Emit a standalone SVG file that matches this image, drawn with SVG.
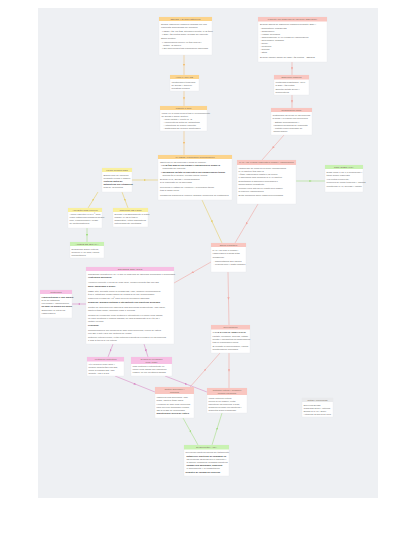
<svg xmlns="http://www.w3.org/2000/svg" width="414" height="539" viewBox="0 0 414 539">
<defs>
<style>
.bg{fill:#eef0f3}
.bd{fill:#fff;stroke:#e2e4e8;stroke-width:0.3}
.ho{fill:#fcd48c}.hr{fill:#f9c6c0}.hy{fill:#f9f0a0}.hg{fill:#c9f2b2}.hp{fill:#f7c0e4}.hx{fill:#e9eaec}
text{font-family:"Liberation Sans",Arial,sans-serif;font-size:2.3px;fill:#666}
.h{text-anchor:middle;fill:#7a6a5a}
.b{font-weight:bold;fill:#3a3a3a}
.lo{stroke:#f2c27a;stroke-width:0.6;fill:none}
.ly{stroke:#e6cf6a;stroke-width:0.6;fill:none}
.lg{stroke:#a6de86;stroke-width:0.6;fill:none}
.lr{stroke:#f0a8a2;stroke-width:0.6;fill:none}
.lp{stroke:#d88cc6;stroke-width:0.6;fill:none}
</style>
<marker id="ao" viewBox="0 0 4 4" refX="2" refY="2" markerWidth="2.4" markerHeight="2.4" orient="auto" markerUnits="userSpaceOnUse"><path d="M0,0 L4,2 L0,4 z" fill="#f2c27a"/></marker>
<marker id="ay" viewBox="0 0 4 4" refX="2" refY="2" markerWidth="2.4" markerHeight="2.4" orient="auto" markerUnits="userSpaceOnUse"><path d="M0,0 L4,2 L0,4 z" fill="#e6cf6a"/></marker>
<marker id="ag" viewBox="0 0 4 4" refX="2" refY="2" markerWidth="2.4" markerHeight="2.4" orient="auto" markerUnits="userSpaceOnUse"><path d="M0,0 L4,2 L0,4 z" fill="#a6de86"/></marker>
<marker id="ar" viewBox="0 0 4 4" refX="2" refY="2" markerWidth="2.4" markerHeight="2.4" orient="auto" markerUnits="userSpaceOnUse"><path d="M0,0 L4,2 L0,4 z" fill="#f0a8a2"/></marker>
<marker id="ap" viewBox="0 0 4 4" refX="2" refY="2" markerWidth="2.4" markerHeight="2.4" orient="auto" markerUnits="userSpaceOnUse"><path d="M0,0 L4,2 L0,4 z" fill="#d88cc6"/></marker>
</defs>
<rect width="414" height="539" fill="#fff"/>
<rect class="bg" x="38" y="8" width="340" height="490"/>

<g id="connectors">
<polyline class="lo" marker-mid="url(#ao)" points="184,55 184,65 184,75"/>
<polyline class="lo" marker-mid="url(#ao)" points="184,91 184,98.5 184,106"/>
<polyline class="lo" marker-mid="url(#ao)" points="184,131 184,143 184,155"/>
<polyline class="ly" marker-mid="url(#ay)" points="132,180 145,180 158,180"/>
<polyline class="ly" marker-mid="url(#ay)" points="202,200 212,221.5 222,243"/>
<polyline class="ly" marker-mid="url(#ay)" points="98,192 93,200 88,208"/>
<polyline class="ly" marker-mid="url(#ay)" points="122,192 125,200 128,208"/>
<polyline class="lg" marker-mid="url(#ag)" points="87,228 87,235 87,242"/>
<polyline class="lg" marker-mid="url(#ag)" points="296,181 310.5,181 325,181"/>
<polyline class="lg" marker-mid="url(#ag)" points="183,418 190.5,431.5 198,445"/>
<polyline class="lg" marker-mid="url(#ag)" points="222,413 217,429 212,445"/>
<polyline class="lr" marker-mid="url(#ar)" points="292,62 292,68.5 292,75"/>
<polyline class="lr" marker-mid="url(#ar)" points="292,95 292,101.5 292,108"/>
<polyline class="lr" marker-mid="url(#ar)" points="284,135 273,147.5 262,160"/>
<polyline class="lr" marker-mid="url(#ar)" points="258,204 246.5,223.5 235,243"/>
<polyline class="lr" marker-mid="url(#ar)" points="211,262 192.5,272.5 174,283"/>
<polyline class="lr" marker-mid="url(#ar)" points="228,272 228.5,298.5 229,325"/>
<polyline class="lr" marker-mid="url(#ar)" points="220,353 205,370 190,387"/>
<polyline class="lr" marker-mid="url(#ar)" points="229,353 229,370.5 229,388"/>
<polyline class="lp" marker-mid="url(#ap)" points="86,304 79,304 72,304"/>
<polyline class="lp" marker-mid="url(#ap)" points="113,344 110.5,350.5 108,357"/>
<polyline class="lp" marker-mid="url(#ap)" points="144,344 146,350.5 148,357"/>
<polyline class="lp" marker-mid="url(#ap)" points="115,376 135,384 155,392"/>
<polyline class="lp" marker-mid="url(#ap)" points="165,376 186,384 207,392"/>
</g>

<g id="n1">
<rect class="bd" x="159" y="17" width="53" height="38"/><rect class="ho" x="159" y="17" width="53" height="4"/>
<text class="h" x="185.5" y="19.8">SEPSIS Y SHOCK SÉPTICO</text>
<text><tspan x="161" y="24.5">Sepsis: disfunción orgánica causada por una</tspan><tspan x="161" y="27.5">respuesta desregulada del huésped</tspan><tspan x="162" y="31.5">• qSOFA ≥2: FR ≥22, alteración mental, PAS ≤100</tspan><tspan x="162" y="34.5">• SOFA ≥2 puntos sobre la basal del paciente</tspan><tspan x="161" y="39">Shock séptico:</tspan><tspan x="162" y="42.5">• Vasopresores para PAM ≥65 mmHg y</tspan><tspan x="163" y="45.5">lactato &gt;2 mmol/L</tspan><tspan x="162" y="49">• Sin hipovolemia tras reanimación adecuada</tspan></text>
</g>

<g id="n2">
<rect class="bd" x="258" y="17" width="69" height="45"/><rect class="hr" x="258" y="17" width="69" height="4.5"/>
<text class="h" x="292.5" y="20">Paciente con sospecha de infección (SSC 2016)</text>
<text><tspan x="260" y="25">Evaluar signos de disfunción orgánica mediante SOFA:</tspan><tspan x="260" y="29">- Respiratorio: PaO2/FiO2</tspan><tspan x="260" y="32">- Coagulación</tspan><tspan x="260" y="35">- Hígado: bilirrubina</tspan><tspan x="260" y="38">- Cardiovascular: PAM o dosis de vasopresores</tspan><tspan x="260" y="41">- Neurológico: Glasgow</tspan><tspan x="260" y="44">- Renal:</tspan><tspan x="260" y="47">- creatinina</tspan><tspan x="260" y="50">- diuresis</tspan><tspan x="260" y="53">- Otros</tspan><tspan x="260" y="58">Evaluar cambio agudo del SOFA ≥2 puntos = SEPSIS</tspan></text>
</g>

<g id="n3">
<rect class="bd" x="170" y="75" width="29" height="16"/><rect class="ho" x="170" y="75" width="29" height="4"/>
<text class="h" x="184.5" y="77.8">Hora 0 / TRIAGE</text>
<text><tspan x="171.5" y="82.5">Identificación temprana</tspan><tspan x="171.5" y="85.5">de sepsis y toma de</tspan><tspan x="171.5" y="88.5">muestras iniciales</tspan></text>
</g>

<g id="n4">
<rect class="bd" x="274" y="75" width="35" height="20"/><rect class="hr" x="274" y="75" width="35" height="4.5"/>
<text class="h" x="291.5" y="78">Disfunción orgánica</text>
<text><tspan x="275.5" y="83">Mortalidad hospitalaria &gt;10%</tspan><tspan x="275.5" y="86">si SOFA ≥2 puntos</tspan><tspan x="275.5" y="90">Solicitar lactato sérico y</tspan><tspan x="275.5" y="93">hemocultivos</tspan></text>
</g>

<g id="n5">
<rect class="bd" x="160" y="106" width="47" height="25"/><rect class="ho" x="160" y="106" width="47" height="4"/>
<text class="h" x="183.5" y="108.8">Paquete 1 hora</text>
<text><tspan x="161.5" y="113.5">Iniciar en la primera hora tras el reconocimiento</tspan><tspan x="161.5" y="116.5">de sepsis o shock séptico:</tspan><tspan x="163" y="120">- Medir lactato y repetir si &gt;2</tspan><tspan x="163" y="123">- Hemocultivos antes de antibióticos</tspan><tspan x="163" y="126">- Antibióticos de amplio espectro</tspan><tspan x="163" y="129">- Cristaloides 30 ml/kg si hipotensión</tspan></text>
</g>

<g id="n6">
<rect class="bd" x="271" y="108" width="41" height="27"/><rect class="hr" x="271" y="108" width="41" height="4"/>
<text class="h" x="291.5" y="110.8">Reanimación inicial</text>
<text><tspan x="272.5" y="115.5">Cristaloides 30 ml/kg en las primeras</tspan><tspan x="272.5" y="118.5">3 horas y reevaluar con frecuencia</tspan><tspan x="273.5" y="122.5">- Estado hemodinámico y</tspan><tspan x="273.5" y="125.5">variables dinámicas de respuesta</tspan><tspan x="273.5" y="128.5">- Lactato como marcador de</tspan><tspan x="273.5" y="131.5">hipoperfusión</tspan></text>
</g>

<g id="n7">
<rect class="bd" x="158" y="155" width="74" height="45"/><rect class="ho" x="158" y="155" width="74" height="4"/>
<text class="h" x="195" y="157.8">MANEJO: reanimación hemodinámica</text>
<text><tspan x="160" y="162.5">Objetivos en las primeras 6 horas de manejo:</tspan><tspan x="161" y="166" class="b">• PAM ≥65 mmHg con fluidos y vasopresores según la</tspan><tspan x="162.5" y="169">respuesta del paciente</tspan><tspan x="161" y="172.5" class="b">• Normalizar lactato en pacientes con hipoperfusión tisular</tspan><tspan x="162.5" y="175.5">diuresis ≥0,5 ml/kg/h, llenado capilar normal</tspan><tspan x="160" y="180">Evaluar PVC, ScvO2 y ecocardiografía</tspan><tspan x="160" y="183">si la respuesta no es adecuada</tspan><tspan x="160" y="187.5">Reevaluar el estado de volumen y la perfusión tisular</tspan><tspan x="160" y="191">tras la carga inicial</tspan><tspan x="160" y="195.5">Considerar albúmina si requiere grandes volúmenes de cristaloides</tspan></text>
</g>

<g id="n8">
<rect class="bd" x="237" y="160" width="59" height="44"/><rect class="hr" x="237" y="160" width="59" height="5"/>
<text class="h" x="266.5" y="163.3">PAM &lt;65: evaluar respuesta a fluidos y vasopresores</text>
<text><tspan x="238.5" y="168.5">Vasopresor de primera elección: noradrenalina</tspan><tspan x="238.5" y="171.5">PAM objetivo ≥65 mmHg</tspan><tspan x="238.5" y="175">Añadir vasopresina (hasta 0,03 U/min)</tspan><tspan x="238.5" y="178">o adrenalina para alcanzar la PAM objetivo</tspan><tspan x="238.5" y="182">Dobutamina si disfunción miocárdica o</tspan><tspan x="238.5" y="185">hipoperfusión persistente</tspan><tspan x="238.5" y="189">Colocar línea arterial en cuanto sea posible</tspan><tspan x="238.5" y="192">si requiere vasopresores</tspan><tspan x="238.5" y="196">Evitar dopamina salvo casos seleccionados</tspan></text>
</g>

<g id="n9">
<rect class="bd" x="325" y="165" width="38" height="27"/><rect class="hg" x="325" y="165" width="38" height="4"/>
<text class="h" x="344" y="167.8">NORADRENALINA</text>
<text><tspan x="326.5" y="172.5">Dosis inicial 0,05–0,1 mcg/kg/min y</tspan><tspan x="326.5" y="175.5">titular según respuesta</tspan><tspan x="326.5" y="179.5">Vía central preferente;</tspan><tspan x="326.5" y="182.5">periférica de forma temporal y vigilada</tspan><tspan x="326.5" y="186.5">Monitorizar PAM, diuresis y lactato</tspan></text>
</g>

<g id="n10">
<rect class="bd" x="102" y="168" width="30" height="24"/><rect class="hy" x="102" y="168" width="30" height="4"/>
<text class="h" x="117" y="170.8">FOCO INFECCIOSO</text>
<text><tspan x="103.5" y="175.5">Buscar foco de infección</tspan><tspan x="103.5" y="178.5">mediante clínica e imagen</tspan><tspan x="103.5" y="182" class="b">Cultivos antes de</tspan><tspan x="103.5" y="185" class="b">antibióticos sin retrasarlos</tspan><tspan x="103.5" y="188">más de 45 minutos</tspan></text>
</g>

<g id="n11">
<rect class="bd" x="68" y="208" width="34" height="20"/><rect class="hy" x="68" y="208" width="34" height="4"/>
<text class="h" x="85" y="210.8">ANTIBIÓTICOS empírico</text>
<text><tspan x="69.5" y="215">Amplio espectro en la 1.ª hora,</tspan><tspan x="69.5" y="218">cubrir patógenos probables según</tspan><tspan x="69.5" y="221">foco, epidemiología y riesgo</tspan><tspan x="69.5" y="224">de multirresistencia</tspan></text>
</g>

<g id="n12">
<rect class="bd" x="113" y="208" width="35" height="19"/><rect class="hy" x="113" y="208" width="35" height="4"/>
<text class="h" x="130.5" y="210.8">CONTROL DE FOCO</text>
<text><tspan x="114.5" y="215">Drenaje o desbridamiento lo antes</tspan><tspan x="114.5" y="218">posible (6–12 h) tras el</tspan><tspan x="114.5" y="221">diagnóstico; retirar dispositivos</tspan><tspan x="114.5" y="224">potencialmente infectados</tspan></text>
</g>

<g id="n13">
<rect class="bd" x="70" y="242" width="34" height="16"/><rect class="hg" x="70" y="242" width="34" height="4"/>
<text class="h" x="87" y="244.8">AJUSTE DE TERAPIA</text>
<text><tspan x="71.5" y="249.5">Desescalar según cultivos,</tspan><tspan x="71.5" y="252.5">duración 7–10 días; valorar</tspan><tspan x="71.5" y="255.5">procalcitonina</tspan></text>
</g>

<g id="n14">
<rect class="bd" x="211" y="243" width="35" height="29"/><rect class="hr" x="211" y="243" width="35" height="4"/>
<text class="h" x="228.5" y="245.8">Shock refractario</text>
<text><tspan x="212.5" y="250.5">PAM &lt;65 pese a fluidos y</tspan><tspan x="212.5" y="253.5">vasopresores a dosis altas</tspan><tspan x="212.5" y="257.5">Considerar:</tspan><tspan x="213.5" y="261.5">- hidrocortisona 200 mg/día</tspan><tspan x="213.5" y="264.5">- revaluar foco y gasto cardiaco</tspan></text>
</g>

<g id="n15">
<rect class="bd" x="86" y="267" width="88" height="77"/><rect class="hp" x="86" y="267" width="88" height="4"/>
<text class="h" x="130" y="269.8">SOPORTE ORGÁNICO</text>
<text><tspan x="88" y="274.5">Transfundir hematíes si Hb &lt;7 g/dl en ausencia de isquemia miocárdica o hemorragia</tspan><tspan x="88" y="278" class="b">Ventilación mecánica:</tspan><tspan x="88" y="283">Volumen corriente 6 ml/kg de peso ideal, presión meseta ≤30 cmH2O</tspan><tspan x="88" y="287" class="b">SDRA moderado o grave:</tspan><tspan x="88" y="291.5">PEEP alta, decúbito prono si PaO2/FiO2 &lt;150, bloqueo neuromuscular</tspan><tspan x="88" y="294.5">≤48 h, estrategia conservadora de fluidos si no hay hipoperfusión</tspan><tspan x="88" y="299">Cabecera elevada 30–45º para prevenir neumonía asociada</tspan><tspan x="88" y="303" class="b">Sedación: mínima continua o intermitente con objetivos definidos</tspan><tspan x="88" y="308">Control de glucemia con insulina si dos glucemias consecutivas &gt;180 mg/dl,</tspan><tspan x="88" y="311">objetivo ≤180 mg/dl, medición cada 1–2 horas</tspan><tspan x="88" y="315.5">Terapia de reemplazo renal continua o intermitente en lesión renal aguda,</tspan><tspan x="88" y="318.5">no para creatinina u oliguria aislada; no usar bicarbonato si pH ≥7,15 y</tspan><tspan x="88" y="321.5">lactato elevado</tspan><tspan x="88" y="326" class="b">Profilaxis:</tspan><tspan x="88" y="330.5">Tromboembólica con heparina de bajo peso molecular; úlcera de estrés</tspan><tspan x="88" y="333.5">con IBP o anti-H2 si hay factores de riesgo</tspan><tspan x="88" y="338">Nutrición enteral precoz; evitar nutrición parenteral exclusiva en los primeros</tspan><tspan x="88" y="341">7 días si tolera la vía enteral</tspan></text>
</g>

<g id="n16">
<rect class="bd" x="40" y="290" width="32" height="28"/><rect class="hp" x="40" y="290" width="32" height="4"/>
<text class="h" x="56" y="292.8">Corticoides</text>
<text><tspan x="41.5" y="297.5" class="b">Hidrocortisona IV 200 mg/día</tspan><tspan x="41.5" y="301">si no se estabiliza</tspan><tspan x="41.5" y="304">con fluidos y vasopresores;</tspan><tspan x="41.5" y="307" class="b">no usar en sepsis sin shock</tspan><tspan x="41.5" y="310.5">Suspender al retirar los</tspan><tspan x="41.5" y="313.5">vasopresores</tspan></text>
</g>

<g id="n17">
<rect class="bd" x="211" y="325" width="39" height="28"/><rect class="hr" x="211" y="325" width="39" height="4.5"/>
<text class="h" x="230.5" y="328">Reevaluación</text>
<text><tspan x="212.5" y="333" class="b">A LAS 6 HORAS: REEVALUAR</tspan><tspan x="212.5" y="336.5">Lactato, perfusión, diuresis, estado</tspan><tspan x="212.5" y="339.5">mental y parámetros hemodinámicos</tspan><tspan x="212.5" y="342.5">tras la reanimación inicial</tspan><tspan x="212.5" y="346.5">Si persiste la hipoperfusión, valorar</tspan><tspan x="212.5" y="349.5">monitorización avanzada</tspan></text>
</g>

<g id="n18">
<rect class="bd" x="87" y="357" width="37" height="19"/><rect class="hp" x="87" y="357" width="37" height="4.5"/>
<text class="h" x="105.5" y="360">Ventilación protectora</text>
<text><tspan x="88.5" y="365">Vt 6 ml/kg de peso ideal y</tspan><tspan x="88.5" y="368">presión meseta ≤30 cmH2O;</tspan><tspan x="88.5" y="371">prono si PaO2/FiO2 &lt;150</tspan><tspan x="88.5" y="374">durante &gt;12 h al día</tspan></text>
</g>

<g id="n19">
<rect class="bd" x="131" y="357" width="41" height="19"/><rect class="hp" x="131" y="357" width="41" height="7"/>
<text class="h" x="151.5" y="359.8">Terapia de reemplazo</text>
<text class="h" x="151.5" y="362.6">renal (TRR)</text>
<text><tspan x="132.5" y="367">TRR continua o intermitente en</tspan><tspan x="132.5" y="370">lesión renal aguda con indicación</tspan><tspan x="132.5" y="373">clásica, no por creatinina aislada</tspan></text>
</g>

<g id="n20">
<rect class="bd" x="155" y="387" width="39" height="31"/><rect class="hr" x="155" y="387" width="39" height="7"/>
<text class="h" x="174.5" y="389.8">Control glucémico y</text>
<text class="h" x="174.5" y="392.6">profilaxis</text>
<text><tspan x="156.5" y="397.5">Insulina si dos glucemias &gt;180</tspan><tspan x="156.5" y="400.5">mg/dl, objetivo ≤180 mg/dl</tspan><tspan x="156.5" y="404.5">Heparina de bajo peso molecular</tspan><tspan x="156.5" y="407.5">para prevenir trombosis venosa;</tspan><tspan x="156.5" y="410.5">IBP si riesgo de hemorragia</tspan><tspan x="156.5" y="413.5" class="b">digestiva por úlcera de estrés</tspan></text>
</g>

<g id="n21">
<rect class="bd" x="207" y="388" width="40" height="25"/><rect class="hr" x="207" y="388" width="40" height="7"/>
<text class="h" x="227" y="390.8">Nutrición enteral y sedación</text>
<text class="h" x="227" y="393.6">mínima (72 horas)</text>
<text><tspan x="208.5" y="398.5">Iniciar nutrición enteral</tspan><tspan x="208.5" y="401.5">precoz si es posible; evitar</tspan><tspan x="208.5" y="404.5">parenteral los primeros 7 días;</tspan><tspan x="208.5" y="407.5">sedación mínima con objetivos y</tspan><tspan x="208.5" y="410.5">despertar diario planificado</tspan></text>
</g>

<g id="n22">
<rect class="bd" x="302" y="398" width="31" height="19"/><rect class="hx" x="302" y="398" width="31" height="4"/>
<text class="h" x="317.5" y="400.8">Notas y referencias</text>
<text><tspan x="303.5" y="405.5">Surviving Sepsis</tspan><tspan x="303.5" y="408.5">Campaign 2016 y criterios</tspan><tspan x="303.5" y="411.5">Sepsis-3 (JAMA 2016)</tspan><tspan x="303.5" y="415">Actualizar según guía local</tspan></text>
</g>

<g id="n23">
<rect class="bd" x="184" y="445" width="45" height="31"/><rect class="hg" x="184" y="445" width="45" height="4.5"/>
<text class="h" x="206.5" y="448">EVOLUCIÓN / ALTA</text>
<text><tspan x="185.5" y="452.5">Reevaluar objetivos diarios del tratamiento</tspan><tspan x="186.5" y="456.5" class="b">Establecer objetivos de cuidados en</tspan><tspan x="186.5" y="459.5">las primeras 72 horas con el paciente y</tspan><tspan x="186.5" y="462.5">la familia; considerar cuidados paliativos</tspan><tspan x="186.5" y="465.5" class="b">cuando sea apropiado; planificar</tspan><tspan x="186.5" y="468.5">el seguimiento y la rehabilitación</tspan><tspan x="185.5" y="473" class="b">Registro de calidad del proceso</tspan></text>
</g>
</svg>
